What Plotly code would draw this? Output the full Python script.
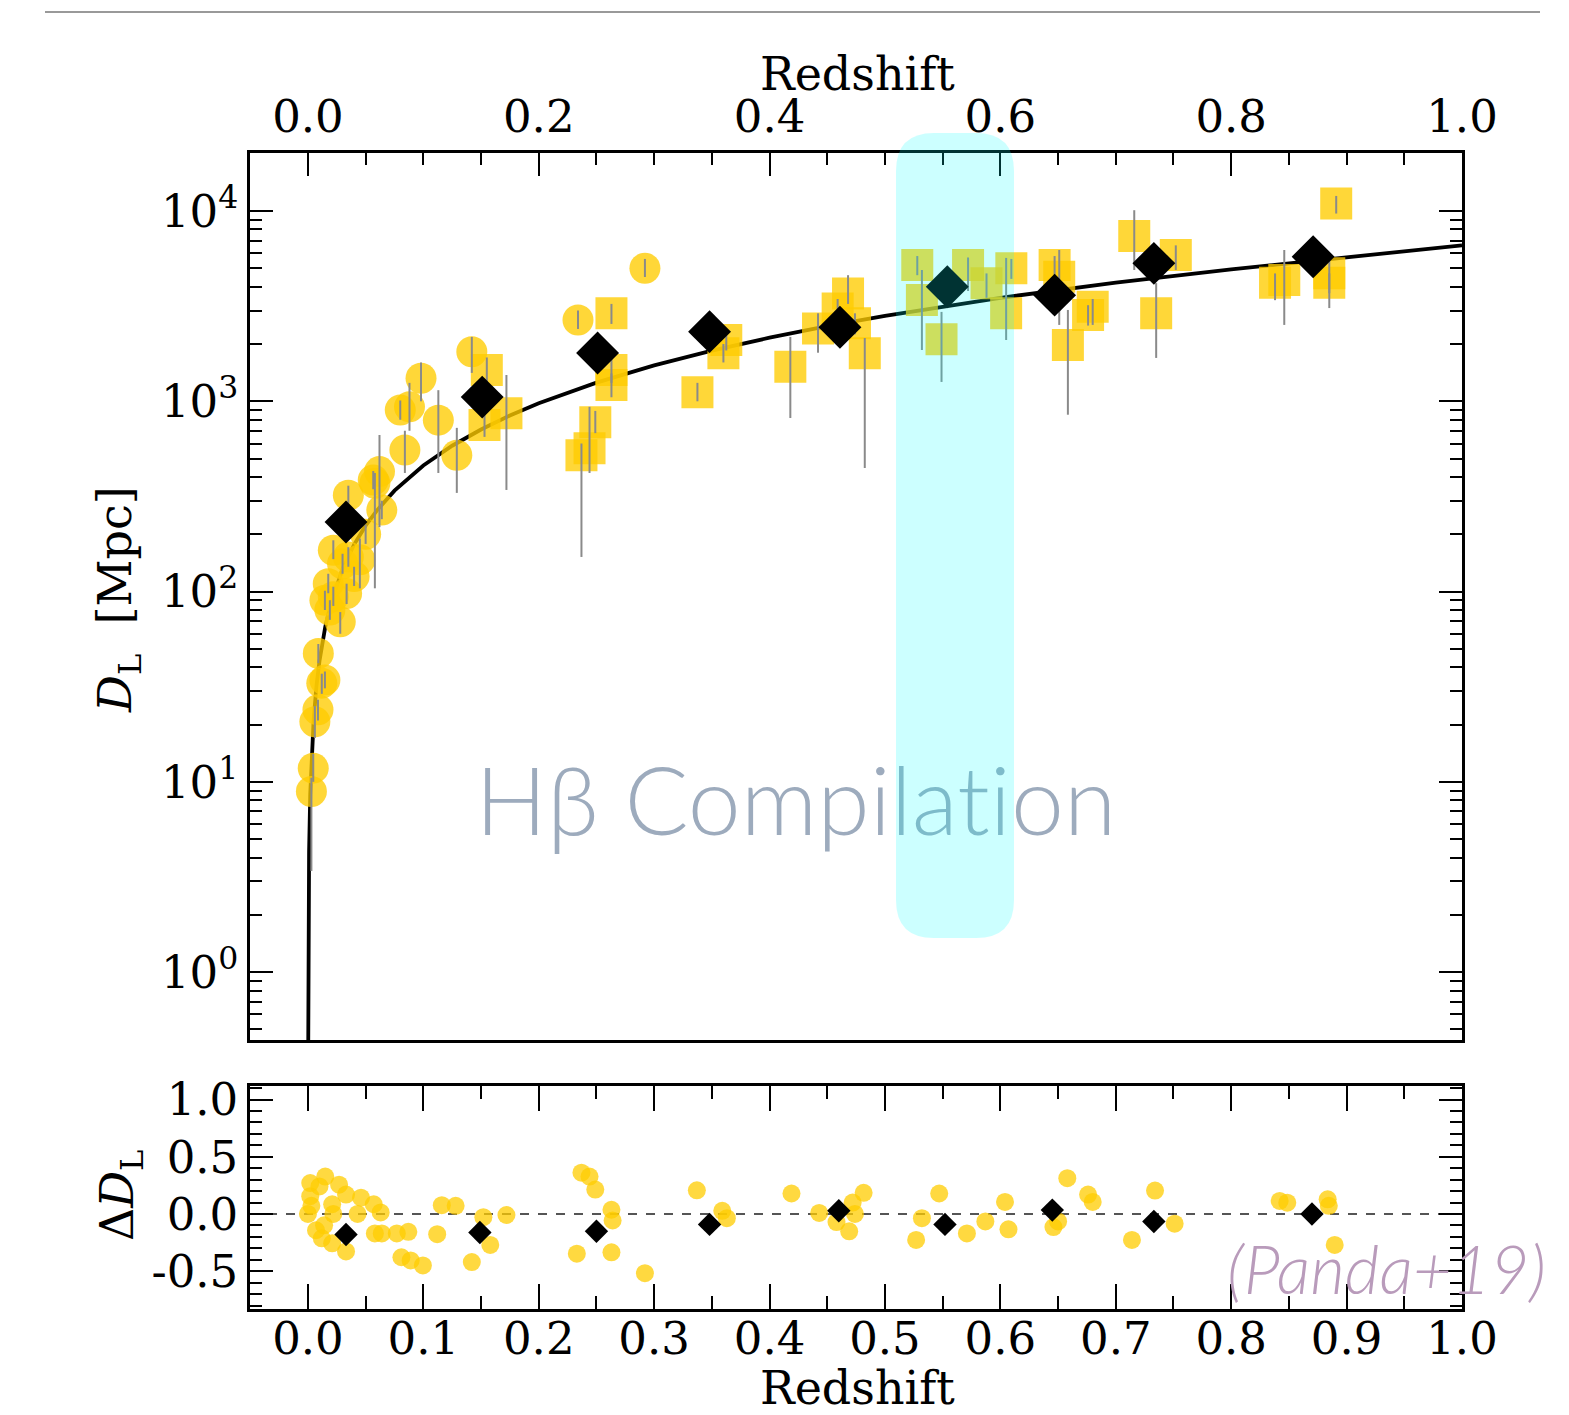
import plotly.graph_objects as go

# ---------------- data ----------------
# model luminosity-distance curve (Mpc)
model_z = [0.00005, 0.0001, 0.0005, 0.001, 0.002, 0.003, 0.005, 0.0075, 0.01, 0.015, 0.02, 0.03,
           0.04, 0.05, 0.06, 0.075, 0.1, 0.125, 0.15, 0.175, 0.2, 0.25, 0.3, 0.35, 0.4, 0.45,
           0.5, 0.6, 0.7, 0.8, 0.9, 1.0]
model_D = [0.21, 0.43, 2.15, 4.29, 8.6, 12.9, 21.5, 32.3, 43.2, 65.2, 87.0, 131.5,
           176.6, 222.0, 268.0, 339.0, 460.0, 584.0, 711.0, 842.0, 976.0, 1254.0, 1545.0, 1847.0,
           2159.0, 2481.0, 2812.0, 3497.0, 4205.0, 4933.0, 5677.0, 6607.0]

# yellow circles (low-z sources)
circ_z = [0.003, 0.0046, 0.006, 0.0087, 0.0147, 0.009, 0.028, 0.0147, 0.022, 0.0335, 0.0176,
          0.035, 0.045, 0.022, 0.064, 0.035, 0.062, 0.058, 0.084, 0.113, 0.129, 0.088, 0.098,
          0.080, 0.142, 0.234, 0.292, 0.0566, 0.012, 0.040, 0.050, 0.019, 0.030]
circ_D = [8.9, 11.8, 20.7, 23.9, 34.3, 47.3, 69.3, 90.0, 94.0, 97.7, 110.0,
          152.0, 147.0, 165.0, 268.0, 321.0, 427.0, 371.0, 555.0, 796.0, 521.0, 935.0, 1322.0,
          900.0, 1820.0, 2673.0, 5000.0, 386.0, 33.0, 120.0, 200.0, 80.0, 140.0]
circ_lo = [3.4, 10.0, 17.0, 21.0, 31.0, 42.0, 60.0, 80.0, 84.0, 86.0, 98.0,
           135.0, 104.0, 148.0, 240.0, 290.0, 218.0, 104.0, 420.0, 420.0, 330.0, 700.0, 1000.0,
           800.0, 1410.0, 2400.0, 4500.0, 345.0, 29.0, 107.0, 178.0, 71.0, 124.0]
circ_hi = [10.5, 14.0, 25.0, 27.0, 38.0, 53.0, 78.0, 101.0, 106.0, 110.0, 124.0,
           171.0, 190.0, 186.0, 300.0, 360.0, 665.0, 420.0, 700.0, 1144.0, 725.0, 1250.0, 1600.0,
           1010.0, 2180.0, 3000.0, 5600.0, 430.0, 37.0, 135.0, 225.0, 90.0, 158.0]

# yellow squares (higher-z sources)
sq_z = [0.155, 0.153, 0.172, 0.263, 0.263, 0.263, 0.249, 0.244, 0.237, 0.3625, 0.36, 0.3375,
        0.418, 0.468, 0.459, 0.442, 0.474, 0.4825, 0.528, 0.532, 0.549, 0.572, 0.588, 0.6095,
        0.605, 0.647, 0.651, 0.6585, 0.680, 0.676, 0.716, 0.752, 0.735, 0.846, 0.885, 0.891,
        0.838, 0.885]
sq_D = [1460.0, 750.0, 865.0, 2900.0, 1460.0, 1217.0, 776.0, 566.0, 521.0, 2100.0, 1786.0, 1114.0,
        1520.0, 3690.0, 3076.0, 2415.0, 2573.0, 1786.0, 5200.0, 3404.0, 2118.0, 5200.0, 4170.0, 5000.0,
        2900.0, 5200.0, 4520.0, 1977.0, 3140.0, 2840.0, 7390.0, 5870.0, 2900.0, 4340.0, 4710.0, 10970.0,
        4200.0, 4200.0]
sq_lo = [1250.0, 650.0, 342.0, 2550.0, 1250.0, 1050.0, 680.0, 420.0, 152.0, 1850.0, 1600.0, 1000.0,
         817.0, 3250.0, 2700.0, 1800.0, 2250.0, 446.0, 4600.0, 1860.0, 1264.0, 3800.0, 3500.0, 4400.0,
         2100.0, 4600.0, 2520.0, 850.0, 2520.0, 2500.0, 4900.0, 4900.0, 1690.0, 2520.0, 3090.0, 9700.0,
         3400.0, 3700.0]
sq_hi = [1700.0, 870.0, 1375.0, 3250.0, 1700.0, 1400.0, 890.0, 935.0, 600.0, 2350.0, 2000.0, 1250.0,
         2180.0, 4600.0, 3450.0, 2900.0, 2900.0, 2150.0, 5800.0, 4900.0, 2950.0, 5700.0, 4700.0, 5600.0,
         5670.0, 5800.0, 6240.0, 3020.0, 3450.0, 3200.0, 10100.0, 6600.0, 4180.0, 6240.0, 5700.0, 12000.0,
         4700.0, 4700.0]

# binned values (black diamonds)
bin_z = [0.033, 0.151, 0.251, 0.348, 0.461, 0.554, 0.647, 0.733, 0.871]
bin_D = [232.0, 1052.0, 1795.0, 2323.0, 2450.0, 4000.0, 3614.0, 5310.0, 5755.0]

# residual panel
res_z = [0.002, 0.015, 0.010, 0.027, 0.002, 0.003, 0.0, 0.021, 0.033, 0.022, 0.007, 0.014,
         0.012, 0.021, 0.033, 0.043, 0.046, 0.057, 0.063, 0.058, 0.064, 0.077, 0.087, 0.081,
         0.089, 0.0996, 0.112, 0.116, 0.128, 0.142, 0.152, 0.158, 0.172, 0.237, 0.244, 0.249,
         0.233, 0.263, 0.264, 0.263, 0.292, 0.337, 0.359, 0.363, 0.419, 0.443, 0.458, 0.469,
         0.472, 0.474, 0.4815, 0.547, 0.532, 0.527, 0.571, 0.587, 0.604, 0.607, 0.658, 0.676,
         0.680, 0.646, 0.650, 0.714, 0.734, 0.751, 0.842, 0.8486, 0.8836, 0.8846, 0.8897]
res_v = [0.27, 0.327, 0.241, 0.256, 0.156, 0.071, 0.0, 0.085, 0.17, 0.0, -0.142, -0.099,
         -0.213, -0.256, -0.327, 0.0, 0.142, 0.085, 0.014, -0.17, -0.17, -0.17, -0.156, -0.378,
         -0.406, -0.449, -0.176, 0.077, 0.071, -0.42, -0.028, -0.27, -0.009, 0.361, 0.327, 0.213,
         -0.347, 0.037, -0.057, -0.335, -0.517, 0.207, 0.028, -0.037, 0.179, 0.009, -0.071, -0.151,
         0.10, 0.0, 0.185, 0.179, -0.037, -0.227, -0.17, -0.065, 0.105, -0.134, 0.3125, 0.17,
         0.105, -0.114, -0.065, -0.227, 0.2045, -0.085, 0.114, 0.099, 0.128, 0.071, -0.27]
resbin_z = [0.033, 0.149, 0.25, 0.348, 0.46, 0.552, 0.645, 0.733, 0.87]
resbin_v = [-0.179, -0.162, -0.151, -0.091, 0.028, -0.091, 0.034, -0.065, 0.0]

# tick labels
x_top_ticks = [0.0, 0.2, 0.4, 0.6, 0.8, 1.0]
y_top_ticks = [1, 10, 100, 1000, 10000]
y_top_labels = ["10<sup>0</sup>", "10<sup>1</sup>", "10<sup>2</sup>", "10<sup>3</sup>", "10<sup>4</sup>"]
y_bot_ticks = [-0.5, 0.0, 0.5, 1.0]
y_bot_labels = ["-0.5", "0.0", "0.5", "1.0"]

# ---------------- figure ----------------
W, H = 1569, 1415
L, R, T, B = 250, 107, 153, 106
PW, PH = W - L - R, H - T - B


def px(xp):
    return (xp - L) / PW


def py(yp):
    return (H - B - yp) / PH


YEL = "#FFCC00"
GREY = "#8a8a8a"
SERIF = "DejaVu Serif"

fig = go.Figure()

# model curve
fig.add_trace(go.Scatter(x=model_z, y=model_D, mode="lines",
                         line=dict(color="black", width=3.8), xaxis="x", yaxis="y",
                         hoverinfo="skip"))

# circles
fig.add_trace(go.Scatter(x=circ_z, y=circ_D, mode="markers",
                         marker=dict(symbol="circle", size=31, color=YEL, opacity=0.78,
                                     line=dict(width=0)),
                         xaxis="x", yaxis="y"))
# squares
fig.add_trace(go.Scatter(x=sq_z, y=sq_D, mode="markers",
                         marker=dict(symbol="square", size=32, color=YEL, opacity=0.78,
                                     line=dict(width=0)),
                         xaxis="x", yaxis="y"))

# error bars on top
for zs, ds, lo, hi in [(circ_z, circ_D, circ_lo, circ_hi), (sq_z, sq_D, sq_lo, sq_hi)]:
    fig.add_trace(go.Scatter(
        x=zs, y=ds, mode="markers", marker=dict(size=1, opacity=0),
        error_y=dict(type="data", symmetric=False,
                     array=[h - d for h, d in zip(hi, ds)],
                     arrayminus=[d - l for d, l in zip(ds, lo)],
                     color=GREY, thickness=2, width=0),
        xaxis="x", yaxis="y", hoverinfo="skip"))

# diamonds
fig.add_trace(go.Scatter(x=bin_z, y=bin_D, mode="markers",
                         marker=dict(symbol="diamond", size=33, color="black", line=dict(width=0)),
                         xaxis="x", yaxis="y"))

# watermark text (inside plot so the highlight tints it)
fig.add_trace(go.Scatter(x=[0.4227], y=[7.0], mode="text", text=["Hβ Compilat\u200cion"],
                         textposition="middle center",
                         textfont=dict(family="Lato", size=95, color="#9dabbd", weight=300),
                         xaxis="x", yaxis="y", hoverinfo="skip", cliponaxis=False))

# residual panel
fig.add_trace(go.Scatter(x=[-0.0502, 1.0], y=[0, 0], mode="lines",
                         line=dict(color="#555555", width=2, dash="dash"),
                         xaxis="x2", yaxis="y2", hoverinfo="skip"))
fig.add_trace(go.Scatter(x=res_z, y=res_v, mode="markers",
                         marker=dict(symbol="circle", size=18, color=YEL, opacity=0.75,
                                     line=dict(width=0)),
                         xaxis="x2", yaxis="y2"))
fig.add_trace(go.Scatter(x=resbin_z, y=resbin_v, mode="markers",
                         marker=dict(symbol="diamond", size=18, color="black", line=dict(width=0)),
                         xaxis="x2", yaxis="y2"))

# minor ticks for log axis
minor_log = [m * 10 ** e for e in range(-1, 5) for m in range(2, 10)]
minor_log = [v for v in minor_log if 0.44 < v < 20200]

tickfont = dict(family=SERIF, size=45, color="black")
axcommon = dict(showline=True, linecolor="black", linewidth=2.5, showgrid=False,
                zeroline=False, ticks="inside", tickcolor="black", tickwidth=2,
                tickfont=tickfont)

fig.update_layout(
    width=W, height=H, margin=dict(l=L, r=R, t=T, b=B),
    paper_bgcolor="white", plot_bgcolor="white", showlegend=False,
    xaxis=dict(domain=[0, 1], anchor="y", range=[-0.0502, 1.0], side="top",
               tickvals=x_top_ticks, tickformat=".1f", ticklen=23, mirror=True,
               minor=dict(dtick=0.05, tick0=0, ticks="inside", ticklen=12,
                          tickwidth=2, tickcolor="black"),
               **axcommon),
    yaxis=dict(domain=[py(1040), 1], anchor="x", type="log",
               range=[-0.357, 4.305], tickvals=y_top_ticks, ticktext=y_top_labels,
               ticklen=23, mirror="ticks",
               minor=dict(tickvals=minor_log, ticks="inside", ticklen=12,
                          tickwidth=2, tickcolor="black"),
               **axcommon),
    xaxis2=dict(domain=[0, 1], anchor="y2", range=[-0.0502, 1.0], side="bottom",
                dtick=0.1, tick0=0, tickformat=".1f", ticklen=25, mirror="ticks",
                ticklabelstandoff=-12,
                minor=dict(dtick=0.05, tick0=0, ticks="inside", ticklen=13,
                           tickwidth=2, tickcolor="black"),
                **axcommon),
    yaxis2=dict(domain=[0, py(1086)], anchor="x2", range=[-0.83, 1.118],
                tickvals=y_bot_ticks, ticktext=y_bot_labels, ticklen=23, mirror="ticks",
                minor=dict(dtick=0.1, tick0=0, ticks="inside", ticklen=12,
                           tickwidth=2, tickcolor="black"),
                **axcommon),
)

# highlight box (rounded), drawn above the data
x0, x1, y0, y1, rr = 896, 1014, 133, 938, 38
rx, ry = rr / PW, rr / PH
X0, X1, Yt, Yb = px(x0), px(x1), py(y0), py(y1)
path = (f"M {X0+rx},{Yt} L {X1-rx},{Yt} Q {X1},{Yt} {X1},{Yt-ry} "
        f"L {X1},{Yb+ry} Q {X1},{Yb} {X1-rx},{Yb} L {X0+rx},{Yb} "
        f"Q {X0},{Yb} {X0},{Yb+ry} L {X0},{Yt-ry} Q {X0},{Yt} {X0+rx},{Yt} Z")
fig.add_shape(type="path", path=path, xref="paper", yref="paper",
              fillcolor="#00ffff", opacity=0.2, line=dict(width=0), layer="above")

# top grey rule
fig.add_shape(type="line", xref="paper", yref="paper", x0=px(45), x1=px(1540),
              y0=py(12), y1=py(12), line=dict(color="#999999", width=2))

# titles
fig.add_annotation(text="Redshift", xref="paper", yref="paper", x=px(857), y=py(74),
                   showarrow=False, font=dict(family=SERIF, size=46, color="black"),
                   xanchor="center", yanchor="middle")
fig.add_annotation(text="Redshift", xref="paper", yref="paper", x=px(857), y=py(1388),
                   showarrow=False, font=dict(family=SERIF, size=46, color="black"),
                   xanchor="center", yanchor="middle")
fig.add_annotation(text="<i>D</i><sub>L</sub>  [Mpc]", xref="paper", yref="paper",
                   x=px(118), y=py(600), textangle=-90, showarrow=False,
                   font=dict(family=SERIF, size=46, color="black"),
                   xanchor="center", yanchor="middle")
fig.add_annotation(text="Δ<i>D</i><sub>L</sub>", xref="paper", yref="paper",
                   x=px(120), y=py(1195), textangle=-90, showarrow=False,
                   font=dict(family=SERIF, size=46, color="black"),
                   xanchor="center", yanchor="middle")
fig.add_annotation(text="<i>(Panda+19)</i>", xref="paper", yref="paper",
                   x=px(1386), y=py(1268), showarrow=False,
                   font=dict(family="Lato", size=67, color="#b99bbb", weight=300),
                   xanchor="center", yanchor="middle")

fig.write_html("out.html")
